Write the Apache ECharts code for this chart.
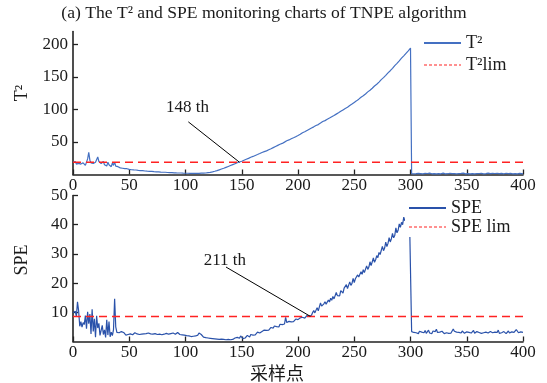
<!DOCTYPE html>
<html>
<head>
<meta charset="utf-8">
<script src="https://cdn.jsdelivr.net/npm/echarts@6/dist/echarts.min.js"></script>
<style>
  html, body { margin: 0; padding: 0; background: #fff; }
  #chart { width: 547px; height: 383px; }
</style>
</head>
<body>
<div id="chart"></div>
<script>
// Sample axis ticks (sample number 0..400)
const X_TICKS = [0, 50, 100, 150, 200, 250, 300, 350, 400];

// T² statistic, one value per sample (index = sample number)
const T2_VALUES = [
  19,17,20,16,15,17,14,16,15,18,16,14,17,24,34,22,18,21,17,15,19,16,27,20,23,17,14,20,15,18,13,19,15,17,12,18,14,19,13,16,12,
  11,10.2,10.5,9.6,9.8,9.0,8.7,8.9,8.1,7.8,
  7.6,7.3,7.5,7.0,6.8,6.9,6.5,6.3,6.4,6.0, 5.8,5.9,5.5,5.4,5.5,5.1,5.0,4.9,4.7,4.8,
  4.5,4.3,4.4,4.1,4.0,4.1,3.8,3.7,3.8,3.5, 3.4,3.5,3.2,3.1,3.2,2.9,2.8,2.9,2.7,2.6,
  2.7,2.4,2.5,2.3,2.2,2.3,2.1,2.0,2.1,1.9,
  1.8,1.9,1.7,1.8,1.6,1.7,1.8,1.6,1.7,1.8, 1.9,1.8,2.0,2.1,2.0,2.2,2.4,2.3,2.6,2.8,
  3.0,3.3,3.7,4.1,4.5,5.0,5.5,6.0,6.6,7.2, 7.8,8.4,9.0,9.6,10.3,11.0,11.7,12.4,13.1,13.8,
  14.5,15.2,15.9,16.6,17.3,18.0,18.6,19.2,19.8,20.4,
  21.1,21.9,22.6,23.4,24.1,24.8,25.6,26.6,27.1,27.8, 28.5,29.3,29.8,30.7,31.5,32.2,32.9,33.9,34.4,35.2,
  35.9,36.4,37.4,38.1,38.9,
  39.7,40.6,41.4,42.3,43.1,44.3,44.8,45.6,46.5,47.3, 47.8,49.0,49.8,50.7,51.9,52.3,53.2,54.0,54.9,55.4,
  56.5,57.4,58.2,59.1,59.9,
  60.9,61.8,62.8,64.2,64.7,65.7,66.6,67.6,68.1,69.5, 70.5,71.4,72.9,73.3,74.3,75.3,76.2,76.8,78.1,79.1,
  80.1,81.5,82.0,82.9,83.9,
  84.9,85.8,86.8,88.2,88.8,89.8,90.8,92.3,92.9,94.0, 95.0,96.6,97.2,98.3,99.4,100.9,101.6,102.7,103.5,105.0,
  106.2,107.7,108.5,109.7,110.9,
  112.1,113.3,114.9,115.9,117.2,118.9,119.8,121.1,122.9,123.9, 125.3,127.1,128.2,129.6,131.6,132.7,134.2,136.2,137.3,138.9,
  140.9,142.2,143.8,145.9,147.2,
  149.0,150.7,152.5,154.3,156.4,157.9,159.7,161.9,163.4,165.3, 167.5,169.1,171.0,173.3,174.8,176.8,178.9,180.4,182.6,184.6,
  186.4,188.6,190.2,192.9,194.5,
  1.2,1.5,1.1,1.8,1.3,1.0,1.6,1.2,1.4,1.9, 1.1,1.3,1.7,1.0,1.5,1.2,2.1,1.4,1.1,1.6,
  1.3,1.8,1.0,1.4,1.2,1.7,1.1,1.5,2.2,1.3, 1.0,1.6,1.2,1.4,1.9,1.1,1.3,1.7,1.2,1.5,
  1.0,1.8,1.3,1.1,1.6,1.4,2.0,1.2,1.0,1.5, 1.3,1.7,1.1,1.4,1.2,1.9,1.0,1.6,1.3,1.1,
  1.5,1.2,1.8,1.4,1.0,1.7,1.3,1.1,2.1,1.2, 1.4,1.0,1.6,1.3,1.5,1.1,1.8,1.2,1.4,1.0,
  1.7,1.3,1.1,1.5,1.9,1.2,1.4,1.0,1.6,1.3, 1.1,1.8,1.2,1.5,1.0,1.4,1.7,1.2,1.3,1.1
];

// SPE statistic, one value per sample (index = sample number)
const SPE_VALUES = [
  9.8,9.2,10.4,8.6,13.6,10.5,5.2,6.8,4.9,6.5, 5.8,8.9,4.4,10.2,6.1,9.4,2.6,11.0,3.4,7.8,
  1.5,8.8,4.6,6.2,2.1,3.8,5.5,2.4,4.0,1.4, 7.4,2.2,6.8,1.6,3.2,2.0,4.1,14.6,5.0,3.1, 3.4,
  3.0,2.6,3.4,3.8,3.1,2.5,2.2,2.7,2.4,2.9, 2.6,2.8,2.3,2.7,3.0,2.5,2.6,2.9,2.4,2.7,
  2.5,2.8,2.6,2.3,2.7,2.5,2.9,2.4,2.6,2.8, 2.5,2.3,2.7,2.6,2.4,2.8,2.5,2.6,2.3,2.7,
  2.5,2.4,2.8,2.6,2.5,2.3,2.7,2.4,2.9,2.6, 2.5,2.7,3.1,2.6,2.4,2.8,2.3,2.5,2.2,2.4,
  2.0,1.8,1.9,1.6,1.7,1.5,1.8,1.6,1.9,1.7, 2.2,2.9,3.3,2.4,1.8,1.5,1.6,1.3,1.5,1.2,
  1.4,1.1,1.3,1.0,1.2,0.9,1.1,0.8,1.0,0.7, 0.9,0.8,1.1,0.7,0.9,0.6,0.8,0.7,1.0,0.6,
  0.9,0.7,0.8,1.2,0.9,1.4,0.8,
  1.1,1.9,1.3,1.0,1.6,1.2,1.4,2.1,1.7,1.5,2.4,1.9,2.2,
  2.6,2.3,2.9,3.2,2.7,2.9,3.5,3.4,3.0,3.9, 3.6,3.8,4.4,3.9,4.1,4.8,4.3,4.6,5.3,4.8,
  5.1,5.5,5.0,5.9,5.6,5.8,6.4,6.0,8.3,6.5, 6.4,6.9,6.3,6.7,7.3,6.8,7.1,7.7,7.2,7.5,
  7.8,8.1,7.6,8.3,8.6,8.0,8.4,8.9,8.5,8.7,
  9.3,9.0,9.9,10.6,9.8,10.4,11.6,10.5,11.0,13.2, 12.1,11.7,12.9,13.6,12.8,13.1,14.2,13.5,14.8,14.1,
  15.4,14.6,15.1,16.8,15.7,16.2,15.6,17.4,17.0,16.6, 18.3,17.8,19.5,18.1,18.7,20.4,19.2,19.9,21.6,20.2,
  21.5,20.9,22.8,22.1,21.7,23.9,23.0,24.6,23.6,24.2, 25.9,24.7,25.5,27.3,26.0,26.5,28.6,27.1,28.0,29.4,
  28.7,30.5,29.8,30.2,32.6,31.1,32.0,34.0,32.5,33.6, 35.6,34.1,35.2,37.0,35.5,36.3,38.9,37.2,38.1,40.3,
  39.1,40.8,40.0,42.6,41.3,42.4,
  43.9,42.8,45.0,44.6,
  3.4,2.8,3.1,2.6,3.0,3.3,2.7,3.5,2.9,3.2, 2.6,3.0,3.8,2.8,3.3,3.9,2.9,3.2,2.7,3.6,
  3.0,3.4,4.2,3.1,2.8,3.2,2.9,3.5,3.0,2.7, 3.3,3.0,3.6,2.8,3.1,2.9,3.4,4.3,3.5,3.0,
  3.2,2.8,3.1,3.4,2.9,3.6,3.2,2.8,3.0,3.3, 2.7,3.1,3.5,2.9,3.2,3.8,2.8,3.0,3.4,2.9,
  3.1,3.6,2.8,3.3,3.0,2.7,3.2,3.7,2.9,3.1, 3.4,2.8,3.0,3.5,3.2,2.7,3.1,3.9,2.8,3.3,
  3.0,2.9,3.4,3.1,2.7,3.2,3.6,2.9,3.0,3.3, 2.8,3.1,3.4,4.1,3.5,3.0,2.9,3.3,3.6,3.1
];

// Control limits
const T2_LIMIT = 18.8;
const SPE_LIMIT = 8.6;

// First samples exceeding the limits
const T2_ALARM = 148;
const SPE_ALARM = 211;

const SERIF = 'Liberation Serif, Times New Roman, serif';
const INK = '#1a1a1a';
const T2_COLOR = '#4470c2';
const SPE_COLOR = '#2a52aa';
const LIM_COLOR = '#ff2222';

const toPairs = arr => arr.map((v, i) => [i, v]);
const limitLine = v => [[X_TICKS[0], v], [X_TICKS[X_TICKS.length - 1], v]];

const axisCommon = {
  axisLine: { show: true, onZero: false, lineStyle: { color: '#222', width: 1.6 } },
  axisTick: { show: true, inside: true, length: 5, lineStyle: { color: '#222', width: 1.3 } },
  splitLine: { show: false },
  axisLabel: { color: INK, fontFamily: SERIF, fontSize: 17 }
};

function xAxis(gridIndex) {
  return Object.assign({}, axisCommon, {
    type: 'value', gridIndex, min: 0, max: 400, interval: 50,
    axisLabel: Object.assign({}, axisCommon.axisLabel, { margin: 3 })
  });
}

const legendText = { color: INK, fontFamily: SERIF, fontSize: 18 };
// legend sample for a limit: short fine dashes
const limLegendItem = name => ({ name, lineStyle: { type: [3, 2], width: 1.2 } });

const chart = echarts.init(document.getElementById('chart'), null, { renderer: 'canvas' });

chart.setOption({
  animation: false,
  backgroundColor: '#fff',
  grid: [
    { left: 73, right: 24, top: 31.5, height: 143 },
    { left: 73, right: 24, top: 195.5, height: 146 }
  ],
  xAxis: [xAxis(0), xAxis(1)],
  yAxis: [
    Object.assign({}, axisCommon, {
      type: 'value', gridIndex: 0, min: 0, max: 220, interval: 50,
      axisLabel: Object.assign({}, axisCommon.axisLabel, { margin: 5, showMinLabel: false, showMaxLabel: false })
    }),
    Object.assign({}, axisCommon, {
      type: 'value', gridIndex: 1, min: 0, max: 50, interval: 10,
      axisLabel: Object.assign({}, axisCommon.axisLabel, { margin: 5, showMinLabel: false })
    })
  ],
  legend: [
    {
      data: [{ name: 'T²' }, limLegendItem('T²lim')], orient: 'vertical', left: 423, top: 34,
      itemWidth: 37, itemHeight: 14, itemGap: 4, padding: 0,
      itemStyle: { opacity: 0 },
      textStyle: legendText, selectedMode: false
    },
    {
      data: [{ name: 'SPE' }, limLegendItem('SPE lim')], orient: 'vertical', left: 405, top: 197,
      itemWidth: 37, itemHeight: 14, itemGap: 1,
      padding: [2, 6, 1, 3], backgroundColor: '#fff',
      itemStyle: { opacity: 0 },
      textStyle: legendText, selectedMode: false
    }
  ],
  series: [
    {
      name: 'T²', type: 'line', xAxisIndex: 0, yAxisIndex: 0,
      data: toPairs(T2_VALUES), symbol: 'none',
      lineStyle: { color: T2_COLOR, width: 1.2 }, itemStyle: { color: T2_COLOR }
    },
    {
      name: 'T²lim', type: 'line', xAxisIndex: 0, yAxisIndex: 0,
      data: limitLine(T2_LIMIT), symbol: 'none',
      lineStyle: { color: LIM_COLOR, width: 1.5, type: [8, 5] }, itemStyle: { color: LIM_COLOR },
      markLine: {
        silent: true, symbol: ['none', 'none'], label: { show: false },
        lineStyle: { color: '#000', width: 1, type: 'solid' },
        data: [[{ coord: [102.5, 81] }, { coord: [T2_ALARM, T2_LIMIT] }]]
      },
      markPoint: {
        silent: true, symbol: 'circle', symbolSize: 1, itemStyle: { color: 'rgba(0,0,0,0)' },
        label: { show: true, position: 'inside', formatter: T2_ALARM + ' th', color: INK, fontFamily: SERIF, fontSize: 17 },
        data: [{ coord: [101.8, 102.3] }]
      }
    },
    {
      name: 'SPE', type: 'line', xAxisIndex: 1, yAxisIndex: 1,
      data: toPairs(SPE_VALUES), symbol: 'none',
      lineStyle: { color: SPE_COLOR, width: 1.2 }, itemStyle: { color: SPE_COLOR }
    },
    {
      name: 'SPE lim', type: 'line', xAxisIndex: 1, yAxisIndex: 1,
      data: limitLine(SPE_LIMIT), symbol: 'none',
      lineStyle: { color: LIM_COLOR, width: 1.5, type: [8, 5] }, itemStyle: { color: LIM_COLOR },
      markLine: {
        silent: true, symbol: ['none', 'none'], label: { show: false },
        lineStyle: { color: '#000', width: 1, type: 'solid' },
        data: [[{ coord: [136, 25.5] }, { coord: [SPE_ALARM, SPE_LIMIT] }]]
      },
      markPoint: {
        silent: true, symbol: 'circle', symbolSize: 1, itemStyle: { color: 'rgba(0,0,0,0)' },
        label: { show: true, position: 'inside', formatter: SPE_ALARM + ' th', color: INK, fontFamily: SERIF, fontSize: 17 },
        data: [{ coord: [135, 27.9] }]
      }
    }
  ],
  graphic: [
    {
      type: 'text', x: 264, y: 13,
      style: { text: '(a) The T² and SPE monitoring charts of TNPE algorithm', fill: INK,
               font: '17.6px ' + SERIF, textAlign: 'center', textVerticalAlign: 'middle' }
    },
    {
      type: 'text', x: 22, y: 93, rotation: Math.PI / 2,
      style: { text: 'T²', fill: INK, font: '18px ' + SERIF, textAlign: 'center', textVerticalAlign: 'middle' }
    },
    {
      type: 'text', x: 22, y: 260, rotation: Math.PI / 2,
      style: { text: 'SPE', fill: INK, font: '18px ' + SERIF, textAlign: 'center', textVerticalAlign: 'middle' }
    },
    {
      type: 'text', x: 277, y: 373,
      style: { text: '采样点', fill: INK, font: '18px "Noto Sans CJK SC", sans-serif',
               textAlign: 'center', textVerticalAlign: 'middle' }
    }
  ]
});
</script>
</body>
</html>
